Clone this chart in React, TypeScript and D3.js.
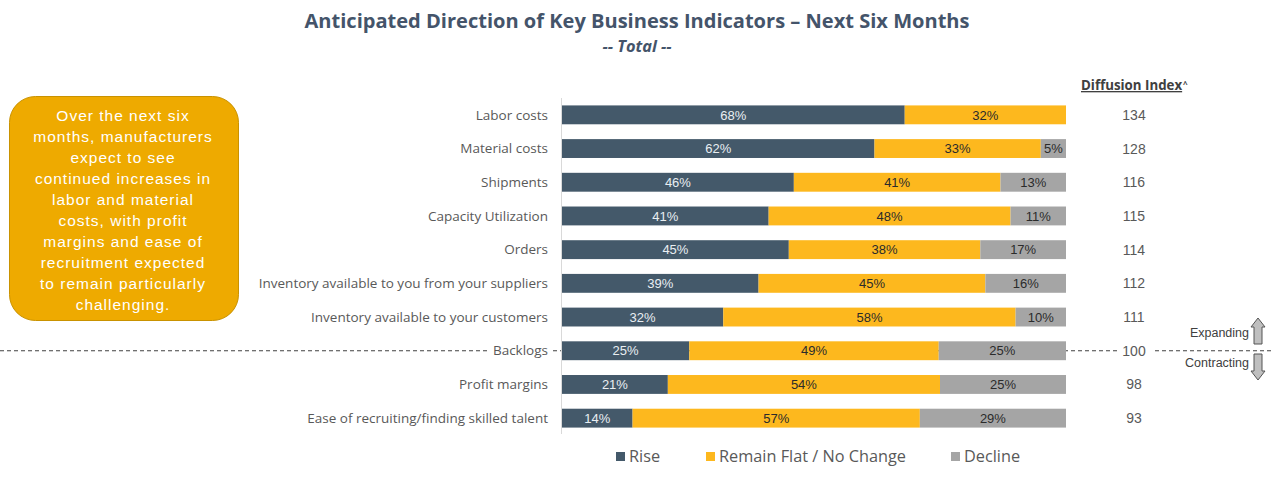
import React from "react";
import * as d3 from "d3";

const categories = [
  "Labor costs",
  "Material costs",
  "Shipments",
  "Capacity Utilization",
  "Orders",
  "Inventory available to you from your suppliers",
  "Inventory available to your customers",
  "Backlogs",
  "Profit margins",
  "Ease of recruiting/finding skilled talent",
];
const rise = [68, 62, 46, 41, 45, 39, 32, 25, 21, 14];
const flat = [32, 33, 41, 48, 38, 45, 58, 49, 54, 57];
const decline = [0, 5, 13, 11, 17, 16, 10, 25, 25, 29];
const diffusion = [134, 128, 116, 115, 114, 112, 111, 100, 98, 93];
const seriesKeys = ["rise", "flat", "decline"];
const seriesNames = ["Rise", "Remain Flat / No Change", "Decline"];
const seriesColors = ["#44596a", "#fdb81e", "#a5a5a5"];
const labelColors = ["#e9eef2", "#2b2b2b", "#2b2b2b"];
const boxLines = [
  "Over the next six",
  "months, manufacturers",
  "expect to see",
  "continued increases in",
  "labor and material",
  "costs, with profit",
  "margins and ease of",
  "recruitment expected",
  "to remain particularly",
  "challenging.",
];

export default function App() {
  const W = 1283, H = 490;
  const x0 = 562, x1 = 1066;
  const rows = categories.map((c, i) => ({ cat: c, rise: rise[i], flat: flat[i], decline: decline[i] }));
  const stack = d3.stack<any>().keys(seriesKeys).offset(d3.stackOffsetExpand);
  const stacked = stack(rows);
  const x = d3.scaleLinear().domain([0, 1]).range([x0, x1]);
  const y = d3.scaleBand<string>().domain(categories).range([98, 435]).paddingInner(0.44).paddingOuter(0.22);
  const bw = y.bandwidth();
  const sans = "'Open Sans', 'DejaVu Sans', sans-serif";
  const arial = "'Liberation Sans', Arial, sans-serif";
  const backlogY = (y("Backlogs") as number) + bw / 2;

  return (
    <svg width={W} height={H} style={{ position: "absolute", left: 0, top: 0, background: "#fff" }}>
      {/* title */}
      <text x={637} y={28} textAnchor="middle" fontFamily={sans} fontWeight={700} fontSize={20}
        fill="#44546a" textLength={665} lengthAdjust="spacingAndGlyphs">
        Anticipated Direction of Key Business Indicators – Next Six Months
      </text>
      <text x={637} y={52} textAnchor="middle" fontFamily={sans} fontWeight={700} fontStyle="italic" fontSize={15.5}
        fill="#44546a" textLength={69} lengthAdjust="spacingAndGlyphs">-- Total --</text>

      {/* left callout box */}
      <rect x={9.5} y={96.5} width={229} height={224} rx={26} ry={26} fill="#eeaa00" stroke="#c99200" strokeWidth={1} />
      {boxLines.map((l, i) => (
        <text key={i} x={123} y={121 + i * 21} textAnchor="middle" fontFamily={arial} fontSize={15.5}
          letterSpacing={1} fill="#ffffff">{l}</text>
      ))}

      {/* dashed separator */}
      <line x1={0} x2={1271} y1={backlogY} y2={backlogY} stroke="#404040" strokeDasharray="4,3" strokeWidth={1} />
      <rect x={488} y={backlogY - 9} width={62} height={18} fill="#fff" />
      <rect x={1118} y={backlogY - 9} width={36} height={18} fill="#fff" />

      {/* axis line */}
      <line x1={x0 - 0.5} x2={x0 - 0.5} y1={98} y2={434} stroke="#d9d9d9" strokeWidth={1} />

      {/* category labels */}
      {categories.map((c) => (
        <text key={c} x={548} y={(y(c) as number) + bw / 2} dy="0.35em" textAnchor="end" fontFamily={sans}
          fontSize={13.5} fill="#595959">{c}</text>
      ))}

      {/* bars */}
      {stacked.map((s, si) => (
        <g key={s.key}>
          {s.map((d, i) => {
            const v = (rows[i] as any)[s.key];
            if (!v) return null;
            const xa = x(d[0]), xb = x(d[1]);
            const yy = y(categories[i]) as number;
            return (
              <g key={i}>
                <rect x={xa} y={yy} width={xb - xa} height={bw} fill={seriesColors[si]} />
                <text x={(xa + xb) / 2} y={yy + bw / 2} dy="0.36em" textAnchor="middle" fontFamily={arial}
                  fontSize={13} fill={labelColors[si]}>{v}%</text>
              </g>
            );
          })}
        </g>
      ))}

      {/* diffusion index */}
      <text x={1081} y={90} fontFamily={sans} fontWeight={700} fontSize={13.3} fill="#404040" textDecoration="underline">
        Diffusion Index
      </text>
      <text x={1183} y={87} fontFamily={sans} fontWeight={700} fontSize={8} fill="#404040">^</text>
      {diffusion.map((v, i) => (
        <text key={i} x={1134} y={(y(categories[i]) as number) + bw / 2} dy="0.36em" textAnchor="middle"
          fontFamily={arial} fontSize={14} fill="#595959">{v}</text>
      ))}

      {/* expanding / contracting */}
      <text x={1249} y={337} textAnchor="end" fontFamily={arial} fontSize={12.5} fill="#404040">Expanding</text>
      <polygon points="1258,318 1265,327 1262,327 1262,344 1254,344 1254,327 1251,327" fill="#bfbfbf" stroke="#555" strokeWidth={1} />
      <text x={1249} y={367} textAnchor="end" fontFamily={arial} fontSize={12.5} fill="#404040">Contracting</text>
      <polygon points="1258,380 1265,371 1262,371 1262,354 1254,354 1254,371 1251,371" fill="#bfbfbf" stroke="#555" strokeWidth={1} />

      {/* legend */}
      {[616, 706, 951].map((lx, i) => (
        <g key={i}>
          <rect x={lx} y={452} width={9} height={9} fill={seriesColors[i]} />
          <text x={lx + 13} y={462} fontFamily={sans} fontSize={16.3} fill="#595959">{seriesNames[i]}</text>
        </g>
      ))}
    </svg>
  );
}
